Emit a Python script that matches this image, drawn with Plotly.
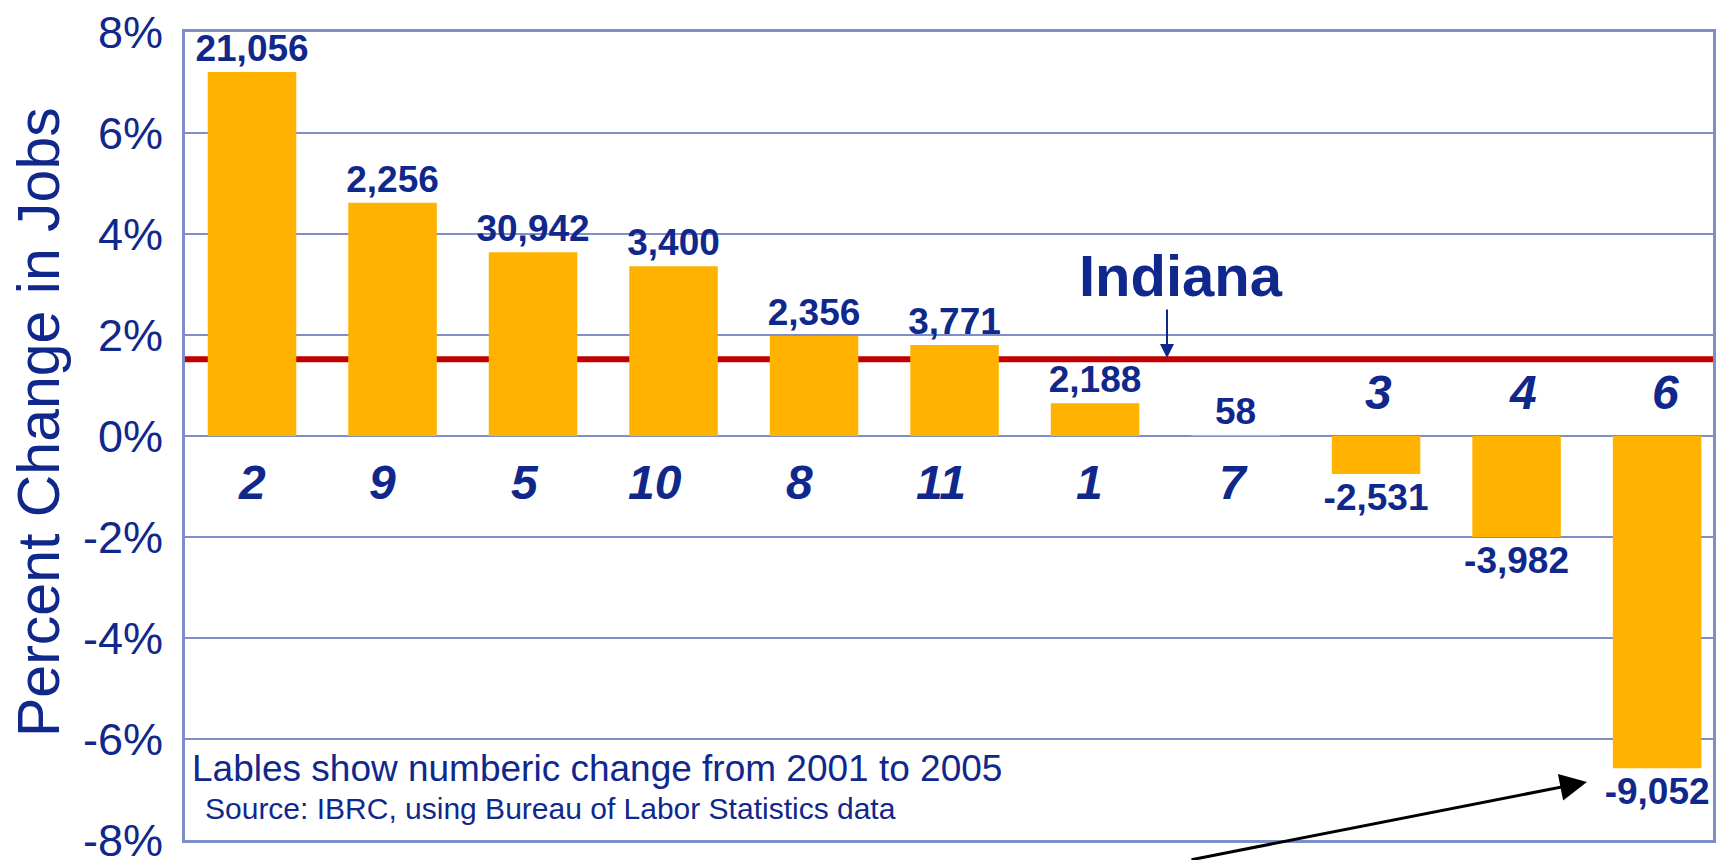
import plotly.graph_objects as go

# ---- data ----
categories = ["2", "9", "5", "10", "8", "11", "1", "7", "3", "4", "6"]
pct_change = [7.21, 4.62, 3.64, 3.36, 1.98, 1.80, 0.65, 0.01, -0.75, -2.0, -6.58]
job_change = ["21,056", "2,256", "30,942", "3,400", "2,356", "3,771", "2,188", "58",
              "-2,531", "-3,982", "-9,052"]
indiana_pct = 1.52
tick_vals = [-8, -6, -4, -2, 0, 2, 4, 6, 8]
tick_text = ["-8%", "-6%", "-4%", "-2%", "0%", "2%", "4%", "6%", "8%"]

# small horizontal nudges (px) of the category labels as placed in the original
label_nudge = [0, -10, -8, -19, -15, -14, -6, -2, 2, 6, 8]

NAVY = "rgb(16,40,140)"
GRID = "rgb(128,142,200)"
ORANGE = "rgb(255,178,0)"
RED = "rgb(192,0,0)"
FONT = "Liberation Sans, Arial, sans-serif"

W, H = 1725, 860
L, R, T, B = 185, 12, 32, 20
PW, PH = W - L - R, H - T - B


def px(x):
    return (x - L) / PW


def py(y):
    return (T + PH - y) / PH


fig = go.Figure()

fig.add_trace(go.Bar(
    x=categories, y=pct_change,
    marker=dict(color=ORANGE, line=dict(width=0)),
    text=job_change, textposition="outside", constraintext="none",
    textfont=dict(family=FONT, size=37, color=NAVY, weight="bold"),
    cliponaxis=False, showlegend=False,
))

fig.add_shape(type="line", xref="paper", x0=0, x1=1, yref="y", y0=indiana_pct, y1=indiana_pct,
              line=dict(color=RED, width=6), layer="below")

annotations = []
# category labels: below zero for gains, above zero for losses
# (x given as the category's index on the category axis)
for i, (cat, v, dx) in enumerate(zip(categories, pct_change, label_nudge)):
    annotations.append(dict(
        text=f"<b><i>{cat}</i></b>", xref="x", yref="y", x=i,
        y=-0.92 if v >= 0 else 0.86, xshift=dx, showarrow=False,
        font=dict(family=FONT, size=48, color=NAVY),
        xanchor="center", yanchor="middle"))

annotations += [
    dict(text="Percent Change in Jobs", xref="paper", yref="paper", x=px(39), y=py(422),
         textangle=-90, showarrow=False, font=dict(family=FONT, size=59, color=NAVY),
         xanchor="center", yanchor="middle"),
    dict(text="<b>Indiana</b>", xref="paper", yref="paper", x=px(1181), y=py(275),
         showarrow=False, font=dict(family=FONT, size=58, color=NAVY),
         xanchor="center", yanchor="middle"),
    dict(text="", xref="paper", yref="paper", x=px(1167), y=py(358), ax=0, ay=-50,
         showarrow=True, arrowhead=2, arrowsize=1.4, arrowwidth=2, arrowcolor=NAVY),
    dict(text="Lables show numberic change from 2001 to 2005", xref="paper", yref="paper",
         x=px(190), y=py(768), xanchor="left", yanchor="middle", showarrow=False,
         font=dict(family=FONT, size=37, color=NAVY)),
    dict(text="Source: IBRC, using Bureau of Labor Statistics data", xref="paper", yref="paper",
         x=px(203), y=py(808), xanchor="left", yanchor="middle", showarrow=False,
         font=dict(family=FONT, size=30, color=NAVY)),
    dict(text="", xref="paper", yref="paper", x=px(1587), y=py(782), ax=-397, ay=78,
         showarrow=True, arrowhead=2, arrowsize=1.8, arrowwidth=3, arrowcolor="black"),
]

fig.update_layout(
    width=W, height=H,
    margin=dict(l=L, r=R, t=T, b=B, autoexpand=False),
    paper_bgcolor="white", plot_bgcolor="white",
    bargap=0.37,
    showlegend=False,
    annotations=annotations,
    xaxis=dict(type="category", range=[-0.477, 10.398], showticklabels=False,
               showgrid=False, zeroline=False, showline=True, mirror=True,
               linecolor=GRID, linewidth=3, ticks="", automargin=False),
    yaxis=dict(range=[-8, 8], tickvals=tick_vals, ticktext=tick_text,
               tickfont=dict(family=FONT, size=45, color=NAVY),
               showgrid=True, gridcolor=GRID, gridwidth=2,
               zeroline=True, zerolinecolor=GRID, zerolinewidth=2,
               showline=True, mirror=True, linecolor=GRID, linewidth=3,
               ticks="", ticklabelstandoff=10, ticklabeloverflow="allow",
               automargin=False),
)

fig.write_html("out.html", config={"displayModeBar": False},
               post_script="document.body.style.margin='0px';document.body.style.overflow='hidden';")
